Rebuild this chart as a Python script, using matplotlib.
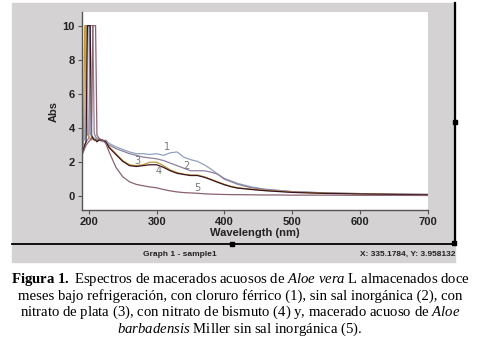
"""UV-Vis spectra of Aloe vera macerates (Figura 1), redrawn as a screenshot-like figure."""
import matplotlib

matplotlib.use("Agg")
import matplotlib.pyplot as plt
from matplotlib.patches import Rectangle
from matplotlib.lines import Line2D

plt.rcParams["mathtext.fontset"] = "custom"
plt.rcParams["mathtext.rm"] = "Liberation Serif"
plt.rcParams["mathtext.it"] = "Liberation Serif:italic"
plt.rcParams["mathtext.bf"] = "Liberation Serif:bold"

WAVELENGTH = [190, 192, 194, 196, 198, 200, 202, 204, 206, 208, 210, 212, 215,
              220, 225, 230, 240, 250, 260, 270, 280, 290, 300, 310, 320, 330,
              340, 350, 360, 370, 380, 390, 400, 410, 420, 440, 460, 480, 500,
              550, 600, 650, 700]

ABS_1 = [3.0, 3.2, 3.4, 10, 10, 10, 3.7, 3.5, 3.5, 3.4, 3.4, 3.3, 3.3,
         3.2, 3.3, 3.1, 2.9, 2.75, 2.6, 2.5, 2.5, 2.45, 2.5, 2.4, 2.55, 2.6,
         2.3, 2.15, 2.05, 1.85, 1.6, 1.3, 1.05, 0.9, 0.75, 0.55, 0.42, 0.35, 0.28,
         0.2, 0.16, 0.14, 0.12]
ABS_2 = [2.6, 2.8, 3.0, 3.2, 3.3, 3.4, 10, 10, 10, 3.7, 3.5, 3.4, 3.3,
         3.3, 3.2, 3.0, 2.8, 2.65, 2.5, 2.4, 2.3, 2.25, 2.2, 2.1, 1.95, 1.8,
         1.65, 1.5, 1.5, 1.5, 1.42, 1.3, 1.0, 0.85, 0.7, 0.5, 0.4, 0.33, 0.27,
         0.2, 0.16, 0.13, 0.11]
ABS_3 = [2.8, 3.0, 10, 10, 3.6, 3.5, 3.4, 3.3, 3.4, 3.3, 3.3, 3.2, 3.3,
         3.3, 3.2, 2.9, 2.5, 2.1, 1.85, 1.8, 1.85, 2.0, 2.0, 1.8, 1.55, 1.4,
         1.3, 1.25, 1.25, 1.15, 1.0, 0.85, 0.7, 0.58, 0.5, 0.42, 0.35, 0.3, 0.25,
         0.18, 0.15, 0.12, 0.1]
ABS_4 = [2.5, 2.7, 3.0, 3.2, 10, 10, 10, 3.6, 3.4, 3.3, 3.3, 3.2, 3.3,
         3.3, 3.2, 2.85, 2.45, 2.05, 1.8, 1.75, 1.8, 1.85, 1.85, 1.7, 1.5, 1.35,
         1.28, 1.22, 1.22, 1.12, 0.98, 0.82, 0.68, 0.56, 0.48, 0.4, 0.33, 0.28, 0.23,
         0.17, 0.14, 0.11, 0.09]
ABS_5 = [2.4, 2.6, 2.8, 3.0, 3.1, 3.2, 3.3, 3.4, 10, 10, 10, 3.6, 3.4,
         3.3, 3.1, 2.6, 1.7, 1.15, 0.85, 0.7, 0.62, 0.55, 0.5, 0.4, 0.32, 0.26,
         0.22, 0.2, 0.18, 0.15, 0.13, 0.12, 0.11, 0.1, 0.1, 0.09, 0.08, 0.08, 0.07,
         0.07, 0.06, 0.06, 0.05]

SERIES = [ABS_1, ABS_2, ABS_3, ABS_4, ABS_5]
COLORS = ["#8fa3bd", "#8e7f9c", "#c4983c", "#3a1420", "#8a6272"]

# curve number labels: (text, wavelength, abs)
LABELS = [("1", 316, 2.9), ("2", 344, 1.8), ("3", 272, 2.06),
          ("4", 303, 1.47), ("5", 360, 0.47)]

XTICKS = [200, 300, 400, 500, 600, 700]
YTICKS = [0, 2, 4, 6, 8, 10]

W, H = 480, 342
GRAY = "#d4d2d2"


def fx(px):
    return px / W


def fy(py):
    return 1 - py / H


fig = plt.figure(figsize=(4.8, 3.42), dpi=100, facecolor="white")

# graph window background + status bar
fig.patches.append(Rectangle((fx(12), fy(262)), fx(443), (262 - 3) / H,
                             transform=fig.transFigure, color=GRAY, zorder=-5))
fig.lines.append(Line2D([fx(12), fx(456)], [fy(244), fy(244)],
                        transform=fig.transFigure, color="black", lw=1.3))
fig.lines.append(Line2D([fx(455), fx(455)], [fy(3), fy(244)],
                        transform=fig.transFigure, color="black", lw=1.6))
for (px, py) in [(232, 244), (455, 122), (454, 243)]:
    fig.patches.append(Rectangle((fx(px - 2), fy(py + 2)), 4 / W, 4 / H,
                                 transform=fig.transFigure, color="black"))

ax = fig.add_axes([fx(82), fy(210), (428 - 82) / W, (210 - 12) / H])
ax.set_zorder(5)
ax.set_facecolor("white")
for ys, col in zip(SERIES, COLORS):
    ax.plot(WAVELENGTH, ys, color=col, lw=0.9)
for txt, xv, yv in LABELS:
    ax.text(xv, yv, txt, fontsize=7, color="#777777", ha="center", va="center")

ax.set_xlim(190, 700)
ax.set_ylim(-0.8, 10.8)
ax.set_xticks(XTICKS)
ax.set_yticks(YTICKS)
for s in ["top", "right"]:
    ax.spines[s].set_visible(False)
for s in ["left", "bottom"]:
    ax.spines[s].set_color("#555555")
    ax.spines[s].set_linewidth(1.0)
ax.tick_params(colors="#555555", length=3, width=0.8, pad=2)
for lab in ax.get_xticklabels() + ax.get_yticklabels():
    lab.set_fontfamily("Liberation Sans")
    lab.set_fontweight("bold")
    lab.set_fontsize(8)
    lab.set_color("#222222")
ax.set_xlabel("Wavelength (nm)", fontfamily="Liberation Sans",
              fontweight="bold", fontsize=8, color="#222222", labelpad=1)
ax.set_ylabel("Abs", fontfamily="Liberation Sans", fontweight="bold",
              fontsize=8, color="#222222", labelpad=3)

fig.text(fx(180), fy(254), "Graph 1 - sample1", fontfamily="Liberation Sans",
         fontweight="bold", fontsize=6, ha="center", va="center", color="#222222")
fig.text(fx(455), fy(254), "X: 335.1784, Y: 3.958132", fontfamily="Liberation Sans",
         fontweight="bold", fontsize=6, ha="right", va="center", color="#222222")

CAPTION = [
    r"$\mathbf{Figura\ 1.}$ Espectros de macerados acuosos de $\mathit{Aloe\ vera}$ L almacenados doce",
    "meses bajo refrigeración, con cloruro férrico (1), sin sal inorgánica (2), con",
    r"nitrato de plata (3), con nitrato de bismuto (4) y, macerado acuoso de $\mathit{Aloe}$",
    r"$\mathit{barbadensis}$ Miller sin sal inorgánica (5).",
]
for i, line in enumerate(CAPTION):
    fig.text(0.5, fy(280 + i * 16.4), line, fontfamily="Liberation Serif",
             fontsize=10.6, ha="center", va="center", color="black")

fig.savefig("out.png", dpi=100, facecolor="white")
